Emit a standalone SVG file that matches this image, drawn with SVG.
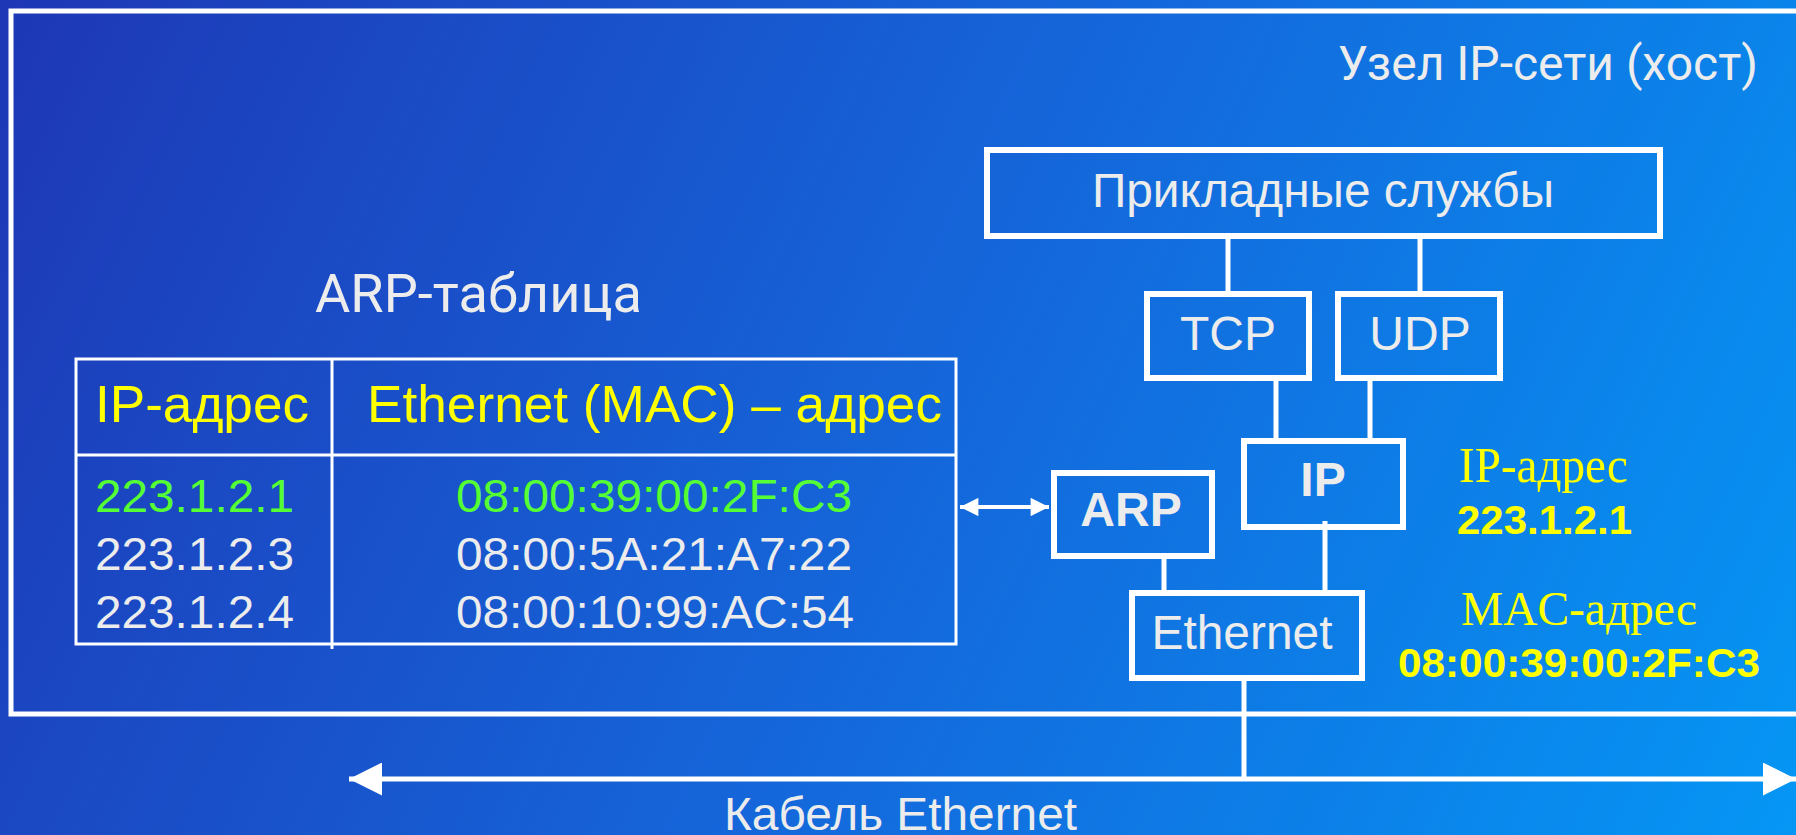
<svg xmlns="http://www.w3.org/2000/svg" width="1796" height="835" viewBox="0 0 1796 835">
<defs>
<linearGradient id="bg" x1="0" y1="0" x2="1796" y2="835" gradientUnits="userSpaceOnUse">
<stop offset="0" stop-color="#1e37b6"/>
<stop offset="0.5" stop-color="#1565d9"/>
<stop offset="1" stop-color="#0596f4"/>
</linearGradient>
<marker id="ah" viewBox="0 0 10 10" refX="10" refY="5" markerWidth="8.6" markerHeight="6.6" markerUnits="strokeWidth" orient="auto-start-reverse">
<path d="M0,0 L10,5 L0,10 Z" fill="#fff"/>
</marker>
<marker id="ahs" viewBox="0 0 10 10" refX="10" refY="5" markerWidth="6.5" markerHeight="4.6" markerUnits="strokeWidth" orient="auto-start-reverse">
<path d="M0,0 L10,5 L0,10 Z" fill="#fff"/>
</marker>
</defs>
<style>
.box{fill:none;stroke:#fff;stroke-width:6}
.ln{stroke:#fff;stroke-width:5;fill:none}
.tl{stroke:#fff;stroke-width:3;fill:none}
.w{fill:#ececec;font-family:"Liberation Sans",Arial,sans-serif}
.r{fill:#ececec;font-family:Roboto,"Liberation Sans",sans-serif}
.y{fill:#ffff00;font-family:"Liberation Sans",Arial,sans-serif}
.g{fill:#55ff33;font-family:"Liberation Sans",Arial,sans-serif}
.ys{fill:#ffff00;font-family:"Liberation Serif","Times New Roman",serif}
.b{font-weight:bold}
</style>
<rect width="1796" height="835" fill="url(#bg)"/>

<g id="host">
<rect x="11" y="11" width="1800" height="703" fill="none" stroke="#fff" stroke-width="5"/>
<text class="r" x="1758" y="80" font-size="48" text-anchor="end">Узел IP-сети (хост)</text>
</g>

<g id="arp-table">
<text class="r" x="315" y="312" font-size="53" textLength="327" lengthAdjust="spacingAndGlyphs">ARP-таблица</text>
<rect class="tl" x="76" y="359" width="880" height="285"/>
<line class="tl" x1="76" y1="455" x2="956" y2="455"/>
<line class="tl" x1="332" y1="359" x2="332" y2="649"/>
<text class="y" x="95" y="422" font-size="52" textLength="214" lengthAdjust="spacingAndGlyphs">IP-адрес</text>
<text class="y" x="367" y="422" font-size="52" textLength="575" lengthAdjust="spacingAndGlyphs">Ethernet (MAC) – адрес</text>
<text class="g" x="95" y="512" font-size="46" textLength="199" lengthAdjust="spacingAndGlyphs">223.1.2.1</text>
<text class="w" x="95" y="570" font-size="46" textLength="199" lengthAdjust="spacingAndGlyphs">223.1.2.3</text>
<text class="w" x="95" y="628" font-size="46" textLength="199" lengthAdjust="spacingAndGlyphs">223.1.2.4</text>
<text class="g" x="456" y="512" font-size="46" textLength="396" lengthAdjust="spacingAndGlyphs">08:00:39:00:2F:C3</text>
<text class="w" x="456" y="570" font-size="46" textLength="396" lengthAdjust="spacingAndGlyphs">08:00:5A:21:A7:22</text>
<text class="w" x="456" y="628" font-size="46" textLength="398" lengthAdjust="spacingAndGlyphs">08:00:10:99:AC:54</text>
</g>

<g id="connectors">
<line class="ln" x1="1228" y1="236" x2="1228" y2="294"/>
<line class="ln" x1="1420" y1="236" x2="1420" y2="294"/>
<line class="ln" x1="1276" y1="378" x2="1276" y2="441"/>
<line class="ln" x1="1370" y1="378" x2="1370" y2="441"/>
<line class="ln" x1="1164" y1="556" x2="1164" y2="593"/>
<line class="ln" x1="1325" y1="521" x2="1325" y2="593"/>
<line class="ln" x1="1244" y1="678" x2="1244" y2="779"/>
<line x1="960" y1="507" x2="1049" y2="507" stroke="#fff" stroke-width="4" marker-start="url(#ahs)" marker-end="url(#ahs)"/>
<line x1="349" y1="779" x2="1796" y2="779" stroke="#fff" stroke-width="5" marker-start="url(#ah)" marker-end="url(#ah)"/>
</g>

<g id="app">
<rect class="box" x="987" y="150" width="673" height="86"/>
<text class="w" x="1323" y="207" font-size="48" text-anchor="middle" textLength="462" lengthAdjust="spacingAndGlyphs">Прикладные службы</text>
</g>
<g id="tcp">
<rect class="box" x="1147" y="294" width="162" height="84"/>
<text class="w" x="1228" y="350" font-size="48" text-anchor="middle">TCP</text>
</g>
<g id="udp">
<rect class="box" x="1338" y="294" width="162" height="84"/>
<text class="w" x="1420" y="350" font-size="48" text-anchor="middle">UDP</text>
</g>
<g id="ip">
<rect class="box" x="1244" y="441" width="159" height="86"/>
<text class="w b" x="1323" y="496" font-size="48" text-anchor="middle">IP</text>
</g>
<g id="arp">
<rect class="box" x="1054" y="473" width="158" height="83"/>
<text class="w b" x="1131" y="526" font-size="48" text-anchor="middle">ARP</text>
</g>
<g id="ethernet">
<rect class="box" x="1132" y="593" width="230" height="85"/>
<text class="w" x="1242" y="649" font-size="48" text-anchor="middle" textLength="181" lengthAdjust="spacingAndGlyphs">Ethernet</text>
</g>

<g id="addresses">
<text class="ys" x="1459" y="482" font-size="50" textLength="169" lengthAdjust="spacingAndGlyphs">IP-адрес</text>
<text class="y b" x="1457" y="534" font-size="41" textLength="175" lengthAdjust="spacingAndGlyphs">223.1.2.1</text>
<text class="ys" x="1461" y="625" font-size="48" textLength="236" lengthAdjust="spacingAndGlyphs">MAC-адрес</text>
<text class="y b" x="1398" y="677" font-size="41" textLength="362" lengthAdjust="spacingAndGlyphs">08:00:39:00:2F:C3</text>
</g>

<g id="cable-label">
<text class="w" x="724" y="830" font-size="47" textLength="353" lengthAdjust="spacingAndGlyphs">Кабель Ethernet</text>
</g>
</svg>
